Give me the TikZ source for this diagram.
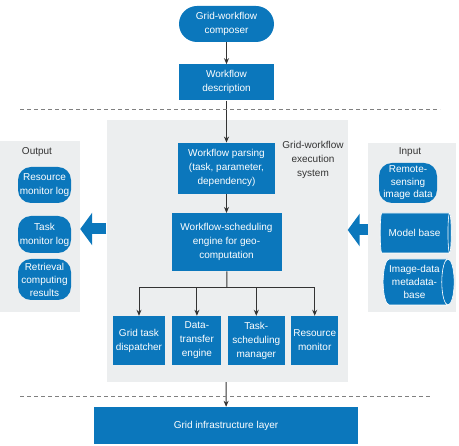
\documentclass[tikz,border=0pt]{standalone}
\usepackage{fontspec}
\setmainfont{Liberation Sans}
\usetikzlibrary{arrows.meta,positioning,shapes.geometric}
\definecolor{wfblue}{HTML}{0B77BC}
\definecolor{panelgray}{HTML}{ECEEEF}
\definecolor{linegray}{HTML}{333333}

\begin{document}
\begin{tikzpicture}[
  x=1pt,y=-1pt,
  node distance=22pt and 7pt,
  blk/.style={fill=wfblue,text=white,align=center,inner sep=1pt,font=\fontsize{10}{14}\selectfont},
  pill/.style={blk,rounded corners=13pt},
  store/.style={cylinder,shape aspect=.35,cylinder uses custom fill,cylinder body fill=wfblue,cylinder end fill=wfblue,
    draw=white,line width=.6pt,text=white,align=center,inner sep=1pt,font=\fontsize{10}{13}\selectfont},
  panel/.style={fill=panelgray,inner sep=0pt},
  tag/.style={text=linegray,align=center,font=\fontsize{10}{14}\selectfont},
  flow/.style={linegray,line width=1pt,-{Stealth[length=6pt,width=5pt]}},
  sep/.style={gray,dash pattern=on 4pt off 3pt,line width=.6pt},
  bigarrow/.style={wfblue,line width=11pt,-{Triangle[length=12pt,width=32pt]}}
]
  \useasboundingbox (0,0) rectangle (459,446);

  % grey panels
  \node[panel,minimum width=241pt,minimum height=262pt] (system) at (227,251) {};
  \node[panel,minimum width=80pt,minimum height=171pt] (outpanel) at (40,226.5) {};
  \node[panel,minimum width=88pt,minimum height=169pt] (inpanel) at (412,227.5) {};

  % top of the flow
  \node[pill,rounded corners=18pt,minimum width=95pt,minimum height=36pt] (composer) at (226.5,24) {Grid-workflow\\composer};
  \node[blk,minimum width=95pt,minimum height=36pt,below=of composer] (desc) {Workflow\\description};
  \node[blk,minimum width=97pt,minimum height=51pt,below=42pt of desc] (parse) {Workflow parsing\\(task, parameter,\\dependency)};
  \node[blk,minimum width=110pt,minimum height=58pt,below=19pt of parse] (engine) {Workflow-scheduling\\engine for geo-\\computation};
  \node[tag] (systag) at (313,160) {Grid-workflow\\execution\\system};

  % services
  \node[blk,minimum width=52pt,minimum height=49pt] (disp) at (139,340.5) {Grid task\\dispatcher};
  \node[blk,minimum width=49pt,minimum height=49pt,right=of disp] (transfer) {Data-\\transfer\\engine};
  \node[blk,minimum width=57pt,minimum height=49pt,right=6pt of transfer] (sched) {Task-\\scheduling\\manager};
  \node[blk,minimum width=47pt,minimum height=49pt,right=6pt of sched] (resmon) {Resource\\monitor};

  \node[blk,minimum width=264pt,minimum height=37pt] (infra) at (226,425.5) {Grid infrastructure layer};

  % output side
  \node[tag] (outtag) at (37,152) {Output};
  \node[pill,minimum width=53pt,minimum height=36pt] (reslog) at (44.5,185) {Resource\\monitor log};
  \node[pill,minimum width=53pt,minimum height=37pt] (tasklog) at (44.5,234.5) {Task\\monitor log};
  \node[pill,minimum width=53pt,minimum height=41pt,font=\fontsize{10}{13}\selectfont] (results) at (44.5,279.5) {Retrieval\\computing\\results};

  % input side
  \node[tag] (intag) at (410,152) {Input};
  \node[pill,minimum width=58pt,minimum height=40pt,inner sep=0pt,font=\fontsize{10}{12.5}\selectfont] (remote) at (408,183) {Remote-\\sensing\\image data};
  \node[store,minimum height=71pt,minimum width=40pt] (model) at (414.5,233) {Model base};
  \node[store,minimum height=71pt,minimum width=46pt] (meta) at (414.5,282) {Image-data\\metadata-\\base};

  % connectors
  \coordinate (bus) at (227,288);
  \draw[flow] (composer) -- (desc);
  \draw[flow] (desc) -- (parse);
  \draw[flow] (parse) -- (engine);
  \draw[linegray,line width=1pt] (engine) -- (bus);
  \foreach \n in {disp,transfer,sched,resmon}
    \draw[flow] (bus) -| (\n);
  \draw[flow] (system) -- (infra);
  \coordinate (inport) at (inpanel.west |- 0,230);
  \coordinate (outport) at (system.west |- 0,229);
  \draw[bigarrow] (inport) -- (inport -| system.east);
  \draw[bigarrow] (outport) -- (outport -| outpanel.east);

  % layer borders
  \draw[sep] (20,109) -- (440,109);
  \draw[sep] (20,396) -- (432,396);
\end{tikzpicture}
\end{document}
